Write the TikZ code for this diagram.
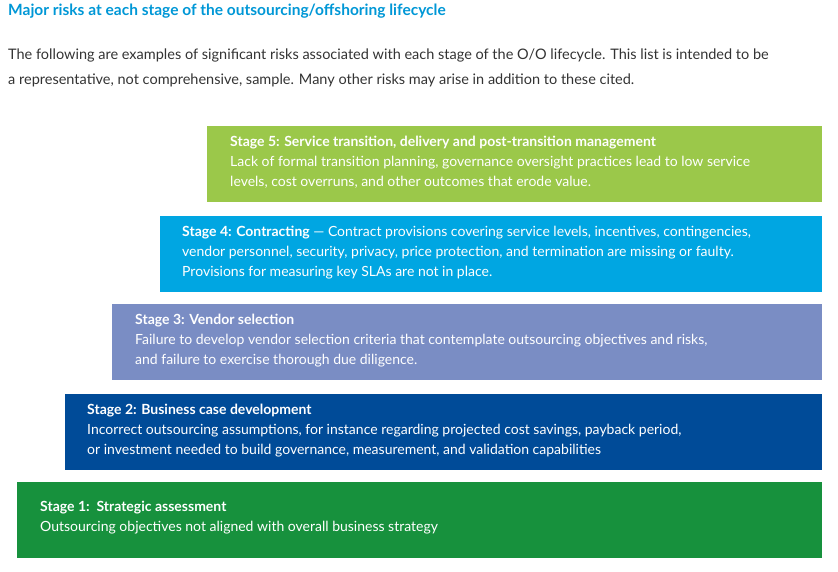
\documentclass[tikz,border=0pt]{standalone}
\usepackage{fontspec}
\setmainfont{Lato}
\usetikzlibrary{positioning}
\definecolor{titleblue}{HTML}{0097D6}
\definecolor{stagefive}{HTML}{9BC84A}
\definecolor{stagefour}{HTML}{00A6E2}
\definecolor{stagethree}{HTML}{7A8DC4}
\definecolor{stagetwo}{HTML}{004B98}
\definecolor{stageone}{HTML}{17913D}
\tikzset{
    stage box/.style={
        anchor=north west,
        minimum height=76pt,
        inner sep=0pt
    },
    stage text/.style={
        anchor=north west,
        align=left,
        text=white,
        inner sep=0pt,
        font=\fontsize{14}{20}\selectfont
    }
}
\begin{document}
\begin{tikzpicture}[x=1pt,y=-1pt]
  \useasboundingbox (0,0) rectangle (838,572);
  \node[anchor=north west,inner sep=0pt,text=titleblue,font=\fontsize{15.5}{18}\selectfont\bfseries] (title) at (8,4)
    {Major risks at each stage of the outsourcing/offshoring lifecycle};
  \node[anchor=north west,inner sep=0pt,align=left,text=black!80,font=\fontsize{14.5}{25}\selectfont] (intro) at (8,49)
    {The following are examples of significant risks associated with each stage of the O/O lifecycle. This list is intended to be\\
     a representative, not comprehensive, sample. Many other risks may arise in addition to these cited.};
  % stages
  \node[stage box,fill=stagefive,minimum width=615pt] (S5) at (207,126) {};
  \node[stage box,fill=stagefour,minimum width=662pt] (S4) at (160,216) {};
  \node[stage box,fill=stagethree,minimum width=710pt] (S3) at (112,304) {};
  \node[stage box,fill=stagetwo,minimum width=757pt] (S2) at (65,394) {};
  \node[stage box,fill=stageone,minimum width=805pt] (S1) at (17,482) {};
  \node[stage text] (T5) at (230,136)
    {\textbf{Stage 5: Service transition, delivery and post-transition management}\\
     Lack of formal transition planning, governance oversight practices lead to low service\\
     levels, cost overruns, and other outcomes that erode value.};
  \node[stage text] (T4) at (182,226)
    {\textbf{Stage 4: Contracting} --- Contract provisions covering service levels, incentives, contingencies,\\
     vendor personnel, security, privacy, price protection, and termination are missing or faulty.\\
     Provisions for measuring key SLAs are not in place.};
  \node[stage text] (T3) at (135,314)
    {\textbf{Stage 3: Vendor selection}\\
     Failure to develop vendor selection criteria that contemplate outsourcing objectives and risks,\\
     and failure to exercise thorough due diligence.};
  \node[stage text] (T2) at (87,404)
    {\textbf{Stage 2: Business case development}\\
     Incorrect outsourcing assumptions, for instance regarding projected cost savings, payback period,\\
     or investment needed to build governance, measurement, and validation capabilities};
  \node[stage text] (T1) at (40,501)
    {\textbf{Stage 1:\ \ Strategic assessment}\\
     Outsourcing objectives not aligned with overall business strategy};
\end{tikzpicture}
\end{document}
